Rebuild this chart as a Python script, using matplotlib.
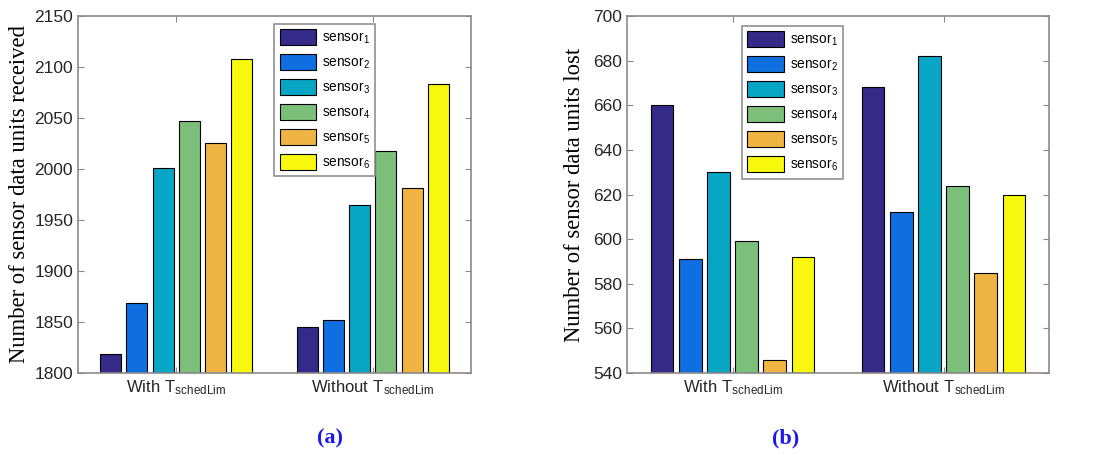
import numpy as np
import matplotlib
import matplotlib.pyplot as plt
matplotlib.use('Agg')

groups = ['$\\mathregular{With\\ T_{schedLim}}$', '$\\mathregular{Without\\ T_{schedLim}}$']
sensors = ['sensor$\\mathregular{_%d}$' % (i + 1) for i in range(6)]
colors = ['#352a87', '#0f6fe0', '#08a6c5', '#7cbf7b', '#f0b443', '#f8f80f']

received_with = [1819, 1869, 2001, 2047, 2025, 2108]
received_without = [1845, 1852, 1965, 2018, 1981, 2083]
lost_with = [660, 591, 630, 599, 546, 592]
lost_without = [668, 612, 682, 624, 585, 620]

plt.rcParams['font.family'] = ['Liberation Sans', 'DejaVu Sans']
plt.rcParams['mathtext.fontset'] = 'custom'
plt.rcParams['mathtext.rm'] = 'Liberation Sans'

fig = plt.figure(figsize=(11.09, 4.55), dpi=100)
spine_col = '#8a8a8a'
serif = ['Liberation Serif', 'DejaVu Serif']


def grouped(ax, with_vals, without_vals, ylim, yticks, ylabel, label_x, legend_box):
    x = np.array([1, 2])
    pitch = 0.8 / 6
    width = pitch * 0.8
    for i in range(6):
        vals = [with_vals[i], without_vals[i]]
        ax.bar(x - 0.4 + pitch * (i + 0.5), np.array(vals) - ylim[0], width,
               bottom=ylim[0], color=colors[i], edgecolor='black', linewidth=0.8,
               label=sensors[i])
    ax.set_xlim(0.5, 2.5)
    ax.set_ylim(*ylim)
    ax.set_yticks(yticks)
    ax.set_xticks(x)
    ax.set_xticklabels(groups, fontsize=12, color='#262626')
    ax.tick_params(axis='y', labelsize=12.5, labelcolor='#262626')
    ax.tick_params(direction='in', top=True, right=True, color=spine_col, length=4)
    for s in ax.spines.values():
        s.set_color(spine_col)
        s.set_linewidth(1.2)
    ax.set_ylabel(ylabel, family=serif, fontsize=16.3)
    ax.yaxis.set_label_coords(label_x, 0.5)
    leg = ax.legend(loc='upper left', bbox_to_anchor=legend_box, fontsize=9.8,
                    fancybox=False, framealpha=1, edgecolor='#909090',
                    handlelength=2.7, handleheight=1.35, labelspacing=0.62,
                    borderpad=0.4, handletextpad=0.4, borderaxespad=0)
    leg.get_frame().set_linewidth(1.2)


ax1 = fig.add_axes([0.0703, 0.180, 0.3544, 0.785])
grouped(ax1, received_with, received_without, (1800, 2150),
        np.arange(1800, 2151, 50), 'Number of sensor data units received',
        -0.122, (0.499, 0.978))

ax2 = fig.add_axes([0.5654, 0.180, 0.3805, 0.785])
grouped(ax2, lost_with, lost_without, (540, 700),
        np.arange(540, 701, 20), 'Number of sensor data units lost',
        -0.0995, (0.2725, 0.972))

fig.text(330 / 1109, 1 - 438 / 455, '(a)', ha='center', va='center', fontsize=16,
         fontweight='bold', color='#1a1aee', family=serif)
fig.text(786 / 1109, 1 - 438 / 455, '(b)', ha='center', va='center', fontsize=16,
         fontweight='bold', color='#1a1aee', family=serif)

fig.savefig('out.png', dpi=100)
